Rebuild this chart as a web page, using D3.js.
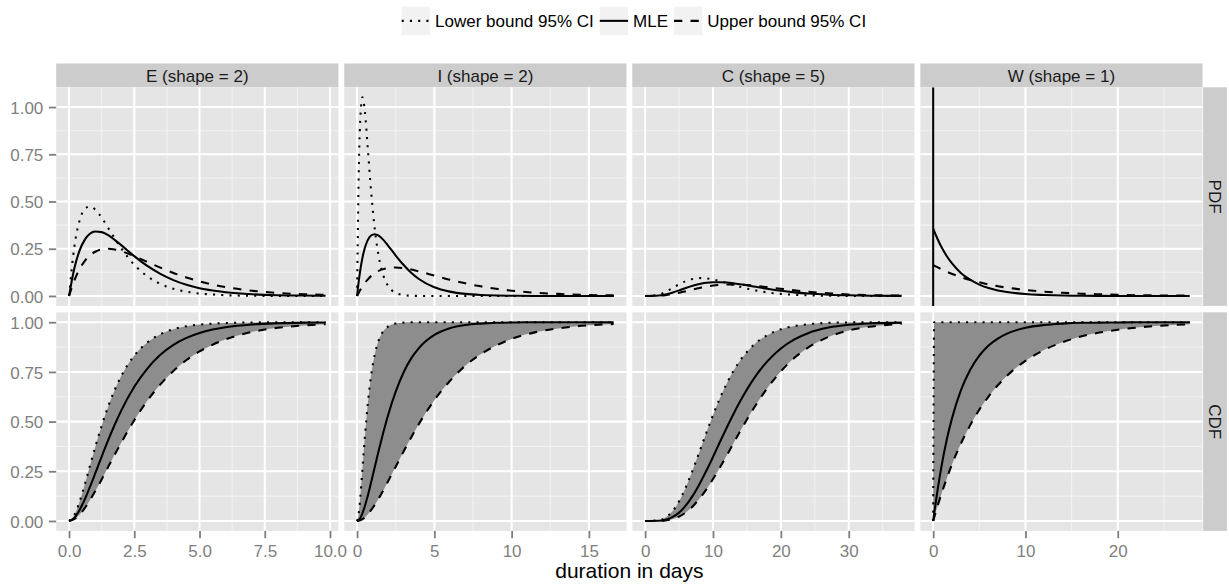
<!DOCTYPE html>
<html>
<head>
<meta charset="utf-8">
<script src="https://cdn.jsdelivr.net/npm/d3@7"></script>
<style>
  body { margin: 0; background: #ffffff; }
  svg { display: block; }
  text { font-family: "Liberation Sans", Arial, Helvetica, sans-serif; }
</style>
</head>
<body>
<svg id="chart" width="1229" height="584"></svg>
<script>
// ---- labels ----
const facetLabels = ["E (shape = 2)", "I (shape = 2)", "C (shape = 5)", "W (shape = 1)"];
const rowLabels = ["PDF", "CDF"];
const seriesNames = ["Lower bound 95% CI", "MLE", "Upper bound 95% CI"];
const yTicks = [0, 0.25, 0.5, 0.75, 1];
const yTickLabels = ["0.00", "0.25", "0.50", "0.75", "1.00"];
const xTitle = "duration in days";

// ---- E (shape = 2) ----
const xE = [0, 0.2, 0.4, 0.6, 0.8, 1, 1.25, 1.5, 1.75, 2, 2.5, 3, 3.5, 4, 4.5, 5, 5.5, 6, 7, 8, 9, 9.83];
const pdfE_lower = [0, 0.257, 0.397, 0.460, 0.474, 0.458, 0.415, 0.360, 0.305, 0.252, 0.165, 0.104, 0.064, 0.038, 0.023, 0.013, 0.008, 0.004, 0.001, 0.0004, 0.0001, 0];
const pdfE_mle = [0, 0.144, 0.239, 0.297, 0.329, 0.341, 0.338, 0.322, 0.297, 0.269, 0.211, 0.159, 0.117, 0.084, 0.059, 0.041, 0.029, 0.020, 0.009, 0.004, 0.002, 0.001];
const pdfE_upper = [0, 0.081, 0.141, 0.185, 0.215, 0.234, 0.247, 0.250, 0.246, 0.237, 0.211, 0.180, 0.150, 0.122, 0.098, 0.077, 0.060, 0.047, 0.028, 0.016, 0.009, 0.006];
const cdfE_lower = [0, 0.028, 0.095, 0.182, 0.276, 0.370, 0.479, 0.576, 0.659, 0.729, 0.832, 0.898, 0.940, 0.965, 0.980, 0.988, 0.993, 0.996, 0.999, 1.0, 1.0, 1.0];
const cdfE_mle = [0, 0.015, 0.054, 0.108, 0.171, 0.238, 0.324, 0.407, 0.484, 0.555, 0.675, 0.767, 0.836, 0.886, 0.921, 0.946, 0.963, 0.975, 0.989, 0.995, 0.998, 0.999];
const cdfE_upper = [0, 0.009, 0.031, 0.064, 0.104, 0.149, 0.209, 0.272, 0.334, 0.394, 0.507, 0.605, 0.687, 0.755, 0.810, 0.853, 0.887, 0.914, 0.951, 0.972, 0.984, 0.990];
const xTicksE = [0, 2.5, 5, 7.5, 10];
const xTickLabelsE = ["0.0", "2.5", "5.0", "7.5", "10.0"];

// ---- I (shape = 2) ----
const xI = [0, 0.1, 0.2, 0.35, 0.5, 0.7, 0.9, 1.15, 1.4, 1.7, 2, 2.5, 3, 3.5, 4, 5, 6, 7, 8, 9, 10, 11.5, 13, 14.5, 16.6];
const pdfI_lower = [0, 0.615, 0.923, 1.052, 0.979, 0.774, 0.561, 0.351, 0.209, 0.108, 0.054, 0.016, 0.005, 0.001, 0.0003, 0, 0, 0, 0, 0, 0, 0, 0, 0, 0];
const pdfI_mle = [0, 0.073, 0.133, 0.203, 0.254, 0.297, 0.320, 0.327, 0.319, 0.297, 0.267, 0.214, 0.165, 0.123, 0.090, 0.046, 0.023, 0.011, 0.005, 0.002, 0.001, 0.0003, 0.0001, 0, 0];
const pdfI_upper = [0, 0.016, 0.031, 0.051, 0.069, 0.088, 0.105, 0.121, 0.133, 0.142, 0.148, 0.151, 0.147, 0.140, 0.130, 0.108, 0.086, 0.067, 0.051, 0.038, 0.028, 0.017, 0.011, 0.006, 0.003];
const cdfI_lower = [0, 0.034, 0.113, 0.265, 0.419, 0.594, 0.728, 0.840, 0.909, 0.955, 0.978, 0.994, 0.998, 1.0, 1.0, 1.0, 1.0, 1.0, 1.0, 1.0, 1.0, 1.0, 1.0, 1.0, 1.0];
const cdfI_mle = [0, 0.004, 0.014, 0.040, 0.074, 0.129, 0.192, 0.273, 0.354, 0.446, 0.531, 0.651, 0.746, 0.818, 0.870, 0.936, 0.970, 0.986, 0.993, 0.997, 0.999, 1.0, 1.0, 1.0, 1.0];
const cdfI_upper = [0, 0.001, 0.003, 0.009, 0.018, 0.034, 0.054, 0.082, 0.113, 0.155, 0.199, 0.273, 0.348, 0.420, 0.488, 0.608, 0.704, 0.781, 0.839, 0.883, 0.916, 0.949, 0.969, 0.982, 0.991];
const xTicksI = [0, 5, 10, 15];
const xTickLabelsI = ["0", "5", "10", "15"];

// ---- C (shape = 5) ----
const xC = [0, 2, 3, 4, 5, 6, 7, 8, 9, 10, 11, 12, 13, 14, 16, 18, 20, 22, 24, 27, 30, 33, 37.8];
const pdfC_lower = [0, 0.0068, 0.0211, 0.0411, 0.0618, 0.0790, 0.0900, 0.0946, 0.0932, 0.0875, 0.0789, 0.0688, 0.0583, 0.0483, 0.0312, 0.0190, 0.0110, 0.0061, 0.0033, 0.0012, 0.0004, 0.0001, 0];
const pdfC_mle = [0, 0.0023, 0.0081, 0.0176, 0.0296, 0.0422, 0.0537, 0.0630, 0.0694, 0.0727, 0.0731, 0.0712, 0.0674, 0.0623, 0.0502, 0.0380, 0.0273, 0.0189, 0.0126, 0.0066, 0.0033, 0.0015, 0.0004];
const pdfC_upper = [0, 0.0011, 0.0041, 0.0094, 0.0167, 0.0253, 0.0342, 0.0426, 0.0498, 0.0554, 0.0592, 0.0611, 0.0615, 0.0603, 0.0548, 0.0468, 0.0380, 0.0296, 0.0223, 0.0139, 0.0082, 0.0047, 0.0018];
const cdfC_lower = [0, 0.003, 0.017, 0.047, 0.099, 0.170, 0.255, 0.348, 0.442, 0.533, 0.616, 0.690, 0.754, 0.807, 0.886, 0.935, 0.965, 0.981, 0.990, 0.997, 0.999, 1.0, 1.0];
const cdfC_mle = [0, 0.001, 0.006, 0.019, 0.042, 0.078, 0.126, 0.185, 0.251, 0.322, 0.396, 0.468, 0.537, 0.602, 0.715, 0.803, 0.868, 0.914, 0.945, 0.973, 0.987, 0.994, 0.998];
const cdfC_upper = [0, 0.0005, 0.003, 0.009, 0.022, 0.043, 0.073, 0.112, 0.158, 0.211, 0.268, 0.328, 0.390, 0.451, 0.567, 0.668, 0.753, 0.821, 0.872, 0.926, 0.959, 0.977, 0.992];
const xTicksC = [0, 10, 20, 30];
const xTickLabelsC = ["0", "10", "20", "30"];

// ---- W (shape = 1) ----
// the lower-bound density is unbounded at 0 and undefined beyond it
const xW = [0, 0.1, 0.5, 1, 1.5, 2, 3, 4, 5, 6, 7, 8, 10, 12, 14, 16, 18, 20, 22, 24, 26, 27.8];
const pdfW_lower = [Infinity, null, null, null, null, null, null, null, null, null, null, null, null, null, null, null, null, null, null, null, null, null];
const pdfW_mle = [0.357, 0.345, 0.299, 0.250, 0.209, 0.175, 0.122, 0.086, 0.060, 0.042, 0.029, 0.021, 0.010, 0.005, 0.002, 0.001, 0.0006, 0.0003, 0.0001, 0.0001, 0, 0];
const pdfW_upper = [0.164, 0.161, 0.151, 0.139, 0.128, 0.118, 0.100, 0.085, 0.072, 0.061, 0.052, 0.044, 0.032, 0.023, 0.017, 0.012, 0.009, 0.006, 0.004, 0.003, 0.002, 0.002];
const cdfW_lower = [0, 1, 1, 1, 1, 1, 1, 1, 1, 1, 1, 1, 1, 1, 1, 1, 1, 1, 1, 1, 1, 1];
const cdfW_mle = [0, 0.035, 0.163, 0.300, 0.415, 0.510, 0.657, 0.760, 0.832, 0.883, 0.918, 0.943, 0.972, 0.986, 0.993, 0.997, 0.998, 0.999, 1.0, 1.0, 1.0, 1.0];
const cdfW_upper = [0, 0.016, 0.079, 0.151, 0.218, 0.280, 0.389, 0.481, 0.560, 0.626, 0.683, 0.731, 0.806, 0.860, 0.899, 0.928, 0.948, 0.962, 0.973, 0.981, 0.986, 0.990];
const xTicksW = [0, 10, 20];
const xTickLabelsW = ["0", "10", "20"];

// ---- facet table ----
const columns = [
  { label: facetLabels[0], x: xE, pdf: [pdfE_lower, pdfE_mle, pdfE_upper], cdf: [cdfE_lower, cdfE_mle, cdfE_upper], ticks: xTicksE, tickLabels: xTickLabelsE },
  { label: facetLabels[1], x: xI, pdf: [pdfI_lower, pdfI_mle, pdfI_upper], cdf: [cdfI_lower, cdfI_mle, cdfI_upper], ticks: xTicksI, tickLabels: xTickLabelsI },
  { label: facetLabels[2], x: xC, pdf: [pdfC_lower, pdfC_mle, pdfC_upper], cdf: [cdfC_lower, cdfC_mle, cdfC_upper], ticks: xTicksC, tickLabels: xTickLabelsC },
  { label: facetLabels[3], x: xW, pdf: [pdfW_lower, pdfW_mle, pdfW_upper], cdf: [cdfW_lower, cdfW_mle, cdfW_upper], ticks: xTicksW, tickLabels: xTickLabelsW }
];

// ---- layout & style ----
const W = 1229;
const plotLeft = 56.2, panelW = 282.2, gapX = 5.85;
const stripTop = 63.5, stripH = 23.8, panelH = 218.6, gapY = 6.4;
const sideStripW = 23.8;
const rowTop = [stripTop + stripH, stripTop + stripH + panelH + gapY];
const panelBg = "#e5e5e5", minorGrid = "#f2f2f2", stripBg = "#cccccc", axisGrey = "#7f7f7f";
const ribbonFill = "#8d8d8d";
const lineW = 2.06;
const dashes = ["2.06,6.18", null, "8.24,8.24"];
const fontSize = 17;

const svg = d3.select("#chart");
svg.append("rect").attr("width", W).attr("height", 584).attr("fill", "#ffffff");

// expanded (5%) continuous domain, ggplot style
function expand(lo, hi) { const r = hi - lo; return [lo - 0.05 * r, hi + 0.05 * r]; }

const isNum = v => v !== null && v !== undefined;
const pdfMax = d3.max(columns.flatMap(c => c.pdf.flat()).filter(v => isNum(v) && Number.isFinite(v)));
const yScales = [
  d3.scaleLinear().domain(expand(0, pdfMax)).range([rowTop[0] + panelH, rowTop[0]]),
  d3.scaleLinear().domain(expand(0, 1)).range([rowTop[1] + panelH, rowTop[1]])
];

function minorBreaks(ticks, domain) {
  const step = ticks[1] - ticks[0];
  const out = [];
  for (let v = ticks[0] - step / 2; v <= domain[1]; v += step) if (v >= domain[0]) out.push(v);
  return out;
}

const defs = svg.append("defs");

columns.forEach((col, ci) => {
  const x0 = plotLeft + ci * (panelW + gapX);
  const xmax = d3.max(col.x);
  const xs = d3.scaleLinear().domain(expand(0, xmax)).range([x0, x0 + panelW]);
  const xMinor = minorBreaks(col.ticks, xs.domain());

  // facet strip
  svg.append("rect").attr("x", x0).attr("y", stripTop).attr("width", panelW).attr("height", stripH).attr("fill", stripBg);
  svg.append("text").attr("x", x0 + panelW / 2).attr("y", stripTop + stripH / 2 + 6.1)
    .attr("text-anchor", "middle").attr("font-size", fontSize).attr("fill", "#1a1a1a").text(col.label);

  [0, 1].forEach(ri => {
    const ys = yScales[ri];
    const top = rowTop[ri];
    const g = svg.append("g");
    const clipId = `clip-${ci}-${ri}`;
    defs.append("clipPath").attr("id", clipId)
      .append("rect").attr("x", x0).attr("y", top).attr("width", panelW).attr("height", panelH);

    g.append("rect").attr("x", x0).attr("y", top).attr("width", panelW).attr("height", panelH).attr("fill", panelBg);

    const yMinor = minorBreaks(yTicks, ys.domain());
    // minor grid
    g.selectAll(null).data(xMinor).join("line")
      .attr("x1", d => xs(d)).attr("x2", d => xs(d)).attr("y1", top).attr("y2", top + panelH)
      .attr("stroke", minorGrid).attr("stroke-width", 1.03);
    g.selectAll(null).data(yMinor).join("line")
      .attr("x1", x0).attr("x2", x0 + panelW).attr("y1", d => ys(d)).attr("y2", d => ys(d))
      .attr("stroke", minorGrid).attr("stroke-width", 1.03);
    // major grid
    g.selectAll(null).data(col.ticks).join("line")
      .attr("x1", d => xs(d)).attr("x2", d => xs(d)).attr("y1", top).attr("y2", top + panelH)
      .attr("stroke", "#ffffff").attr("stroke-width", 2.06);
    g.selectAll(null).data(yTicks).join("line")
      .attr("x1", x0).attr("x2", x0 + panelW).attr("y1", d => ys(d)).attr("y2", d => ys(d))
      .attr("stroke", "#ffffff").attr("stroke-width", 2.06);

    const marks = g.append("g").attr("clip-path", `url(#${clipId})`);
    const series = ri === 0 ? col.pdf : col.cdf;

    // confidence band between the bounds of the CDF
    if (ri === 1) {
      const band = col.x.map((xv, i) => ({ x: xv, lo: series[2][i], hi: series[0][i] }));
      marks.append("path").datum(band)
        .attr("d", d3.area().x(d => xs(d.x)).y0(d => ys(d.lo)).y1(d => ys(d.hi)).curve(d3.curveMonotoneX))
        .attr("fill", ribbonFill);
    }

    series.forEach((vals, si) => {
      const pts = col.x.map((xv, i) => [xv, vals[i]]);
      const finite = pts.filter(p => isNum(p[1]) && Number.isFinite(p[1]));
      if (finite.length > 1) {
        marks.append("path").datum(finite)
          .attr("d", d3.line().x(p => xs(p[0])).y(p => ys(p[1])).curve(d3.curveMonotoneX))
          .attr("fill", "none").attr("stroke", "#000000").attr("stroke-width", lineW)
          .attr("stroke-dasharray", dashes[si]);
      }
      // an unbounded value runs across the whole panel height at its x
      pts.filter(p => isNum(p[1]) && !Number.isFinite(p[1])).forEach(p => {
        marks.append("line")
          .attr("x1", xs(p[0])).attr("x2", xs(p[0]))
          .attr("y1", top).attr("y2", top + panelH)
          .attr("stroke", "#000000").attr("stroke-width", lineW);
      });
    });

    // y axis on the first column
    if (ci === 0) {
      const ax = svg.append("g").attr("transform", `translate(${x0},0)`)
        .call(d3.axisLeft(ys).tickValues(yTicks).tickFormat((d, i) => yTickLabels[i]).tickSizeInner(7.3).tickSizeOuter(0).tickPadding(5.6));
      ax.select(".domain").remove();
      ax.selectAll(".tick line").attr("stroke", axisGrey).attr("stroke-width", 1.8);
      ax.selectAll(".tick text").attr("fill", axisGrey).attr("font-size", fontSize)
        .attr("font-family", "'Liberation Sans', Arial, Helvetica, sans-serif").attr("dy", "0.36em");
    }

    // row strip on the last column
    if (ci === columns.length - 1) {
      const sx = x0 + panelW + 0.6;
      svg.append("rect").attr("x", sx).attr("y", top).attr("width", sideStripW).attr("height", panelH).attr("fill", stripBg);
      svg.append("text").attr("transform", `translate(${sx + sideStripW / 2 - 6.1},${top + panelH / 2}) rotate(90)`)
        .attr("text-anchor", "middle").attr("font-size", fontSize).attr("fill", "#1a1a1a").text(rowLabels[ri]);
    }
  });

  // x axis under the bottom row
  const axY = rowTop[1] + panelH;
  const ax = svg.append("g").attr("transform", `translate(0,${axY})`)
    .call(d3.axisBottom(xs).tickValues(col.ticks).tickFormat((d, i) => col.tickLabels[i]).tickSizeInner(7.3).tickSizeOuter(0).tickPadding(6.3));
  ax.select(".domain").remove();
  ax.selectAll(".tick line").attr("stroke", axisGrey).attr("stroke-width", 1.8);
  ax.selectAll(".tick text").attr("fill", axisGrey).attr("font-size", fontSize)
    .attr("font-family", "'Liberation Sans', Arial, Helvetica, sans-serif");
});

// x axis title
const plotRight = plotLeft + 4 * panelW + 3 * gapX;
svg.append("text").attr("x", (plotLeft + plotRight) / 2).attr("y", 578)
  .attr("text-anchor", "middle").attr("font-size", 21).attr("fill", "#000000").text(xTitle);

// legend
const legend = svg.append("g");
const keySize = 28.3, keyTop = 6.7;
let lx = 401.7;
seriesNames.forEach((name, si) => {
  legend.append("rect").attr("x", lx).attr("y", keyTop).attr("width", keySize).attr("height", keySize).attr("fill", minorGrid);
  legend.append("line").attr("x1", lx).attr("x2", lx + keySize)
    .attr("y1", keyTop + keySize / 2).attr("y2", keyTop + keySize / 2)
    .attr("stroke", "#000000").attr("stroke-width", lineW).attr("stroke-dasharray", dashes[si]);
  const t = legend.append("text").attr("x", lx + keySize + 5).attr("y", keyTop + keySize / 2 + 6.1)
    .attr("font-size", fontSize).attr("fill", "#000000").text(name);
  lx += keySize + 5 + t.node().getComputedTextLength() + 6;
});
</script>
</body>
</html>
